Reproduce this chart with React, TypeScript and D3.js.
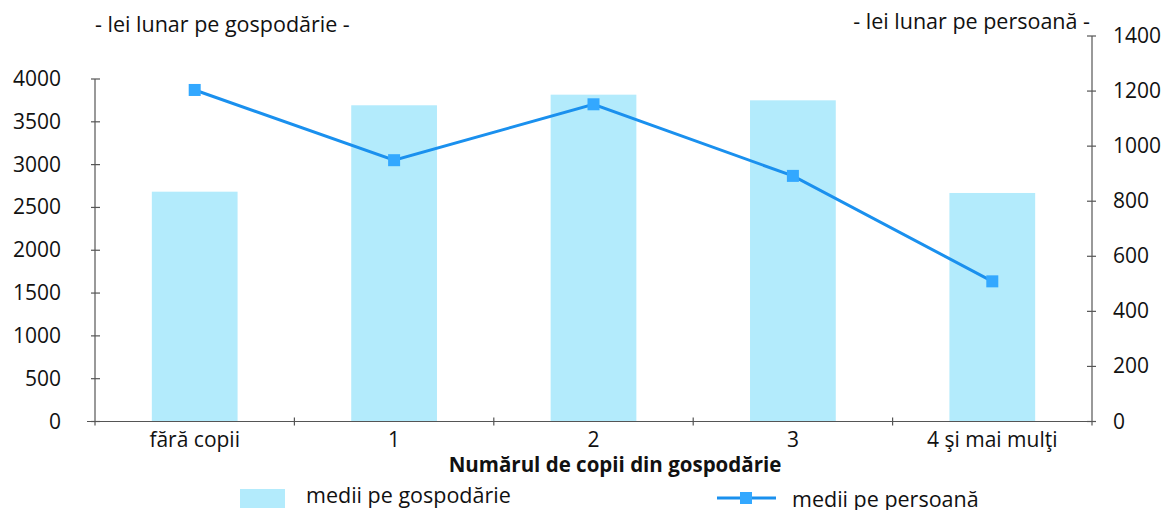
import React, { useEffect, useRef } from 'react';
import * as d3 from 'd3';

const CATEGORIES = ['fără copii', '1', '2', '3', '4 şi mai mulţi'];
const HOUSEHOLD_VALUES = [2684, 3693, 3817, 3751, 2669];
const PERSON_VALUES = [1204, 949, 1152, 892, 509];
const LEFT_TICKS = [0, 500, 1000, 1500, 2000, 2500, 3000, 3500, 4000];
const RIGHT_TICKS = [0, 200, 400, 600, 800, 1000, 1200, 1400];

const WIDTH = 1165;
const HEIGHT = 510;
const FONT = '"Open Sans", "Noto Sans", sans-serif';
const BAR_COLOR = '#b3ebfc';
const LINE_COLOR = '#1a90ee';
const MARKER_COLOR = '#33a8ff';
const AXIS_COLOR = '#555';

const App = () => {
    const svgRef = useRef<SVGSVGElement>(null);

    useEffect(() => {
        const svg = d3.select(svgRef.current);
        svg.selectAll('*').remove();

        const x = d3.scaleBand<string>().domain(CATEGORIES).range([95, 1092]).padding(0);
        const yLeft = d3.scaleLinear().domain([0, 4000]).range([421.5, 79]);
        const yRight = d3.scaleLinear().domain([0, 1400]).range([421.5, 36]);
        const barW = x.bandwidth() * 0.43;

        // bars
        svg.append('g')
            .selectAll('rect')
            .data(HOUSEHOLD_VALUES)
            .enter()
            .append('rect')
            .attr('x', (d, i) => x(CATEGORIES[i])! + (x.bandwidth() - barW) / 2)
            .attr('y', d => yLeft(d))
            .attr('width', barW)
            .attr('height', d => yLeft(0) - yLeft(d))
            .attr('fill', BAR_COLOR);

        // axes
        const axes = svg.append('g').attr('stroke', AXIS_COLOR).attr('stroke-width', 1.2).attr('fill', 'none');
        axes.append('line').attr('x1', 95).attr('x2', 95).attr('y1', yLeft(4000)).attr('y2', yLeft(0) + 4);
        axes.append('line').attr('x1', 1092).attr('x2', 1092).attr('y1', yRight(1400)).attr('y2', yLeft(0) + 4);
        axes.append('line').attr('x1', 87).attr('x2', 1096).attr('y1', yLeft(0)).attr('y2', yLeft(0));
        LEFT_TICKS.forEach(t => {
            axes.append('line').attr('x1', 91).attr('x2', 100).attr('y1', yLeft(t)).attr('y2', yLeft(t));
        });
        RIGHT_TICKS.forEach(t => {
            axes.append('line').attr('x1', 1087).attr('x2', 1096).attr('y1', yRight(t)).attr('y2', yRight(t));
        });
        CATEGORIES.slice(1).forEach(c => {
            axes.append('line').attr('x1', x(c)!).attr('x2', x(c)!).attr('y1', yLeft(0) - 4).attr('y2', yLeft(0) + 4);
        });

        const text = svg.append('g').attr('font-family', FONT).attr('fill', '#111');
        text.selectAll('.lt').data(LEFT_TICKS).enter().append('text')
            .attr('x', 61).attr('y', d => yLeft(d) + 7)
            .attr('text-anchor', 'end').attr('font-size', 21).text(d => d);
        text.selectAll('.rt').data(RIGHT_TICKS).enter().append('text')
            .attr('x', 1113).attr('y', d => yRight(d) + 7)
            .attr('font-size', 21).text(d => d);
        text.selectAll('.ct').data(CATEGORIES).enter().append('text')
            .attr('x', d => x(d)! + x.bandwidth() / 2).attr('y', 447)
            .attr('text-anchor', 'middle').attr('font-size', 21).text(d => d);

        text.append('text').attr('x', 95).attr('y', 32).attr('font-size', 21.5).text('- lei lunar pe gospodărie -');
        text.append('text').attr('x', 1090).attr('y', 29).attr('text-anchor', 'end').attr('font-size', 21.5).text('- lei lunar pe persoană -');
        text.append('text').attr('x', 615).attr('y', 472).attr('text-anchor', 'middle')
            .attr('font-size', 20.5).attr('font-weight', 'bold').text('Numărul de copii din gospodărie');

        // line
        const line = d3.line<number>()
            .x((d, i) => x(CATEGORIES[i])! + x.bandwidth() / 2)
            .y(d => yRight(d));
        svg.append('path').datum(PERSON_VALUES).attr('d', line)
            .attr('fill', 'none').attr('stroke', LINE_COLOR).attr('stroke-width', 3);
        svg.append('g').selectAll('rect').data(PERSON_VALUES).enter().append('rect')
            .attr('x', (d, i) => x(CATEGORIES[i])! + x.bandwidth() / 2 - 6)
            .attr('y', d => yRight(d) - 6)
            .attr('width', 12).attr('height', 12).attr('fill', MARKER_COLOR);

        // legend
        const legend = svg.append('g').attr('font-family', FONT);
        legend.append('rect').attr('x', 240).attr('y', 489).attr('width', 45).attr('height', 19).attr('fill', BAR_COLOR);
        legend.append('text').attr('x', 306).attr('y', 503).attr('font-size', 21.5).attr('fill', '#111').text('medii pe gospodărie');
        legend.append('line').attr('x1', 717).attr('x2', 776).attr('y1', 498).attr('y2', 498)
            .attr('stroke', LINE_COLOR).attr('stroke-width', 3);
        legend.append('rect').attr('x', 740).attr('y', 492).attr('width', 12).attr('height', 12).attr('fill', MARKER_COLOR);
        legend.append('text').attr('x', 792).attr('y', 507).attr('font-size', 21.5).attr('fill', '#111').text('medii pe persoană');
    }, []);

    return (
        <div>
            <svg ref={svgRef} width={WIDTH} height={HEIGHT}
                style={{ position: 'absolute', left: 0, top: 0, background: '#fff' }} />
        </div>
    );
};

export default App;
